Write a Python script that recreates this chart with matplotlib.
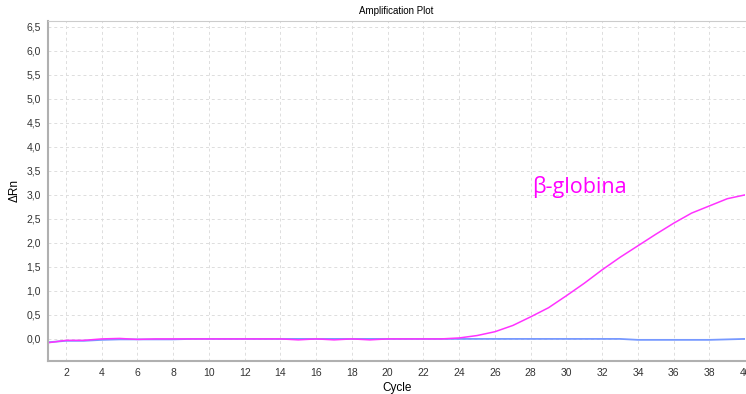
import matplotlib
matplotlib.use("Agg")
import matplotlib.pyplot as plt
from matplotlib.ticker import FuncFormatter

plt.rcParams["font.family"] = ["Liberation Sans", "DejaVu Sans"]

# dados (ciclos 1..40)
ciclos = list(range(1, 41))
globina = [-0.08, -0.03, -0.03, 0.0, 0.01, -0.01, 0.0, 0.0, 0.0, 0.0,
           0.0, 0.0, 0.0, 0.0, -0.02, 0.0, -0.02, 0.0, -0.02, 0.0,
           0.0, 0.0, 0.0, 0.02, 0.07, 0.15, 0.28, 0.46, 0.65, 0.9,
           1.16, 1.44, 1.70, 1.94, 2.18, 2.41, 2.62, 2.77, 2.92, 3.0]
controle = [-0.07, -0.04, -0.04, -0.02, -0.01, -0.01, -0.01, -0.01, 0.0, 0.0,
            0.0, 0.0, 0.0, 0.0, 0.0, 0.0, 0.0, 0.0, 0.0, 0.0,
            0.0, 0.0, 0.0, 0.0, 0.0, 0.0, 0.0, 0.0, 0.0, 0.0,
            0.0, 0.0, 0.0, -0.02, -0.02, -0.02, -0.02, -0.02, -0.01, 0.0]
xticks = list(range(2, 41, 2))
yticks = [i * 0.5 for i in range(0, 14)]

fig = plt.figure(figsize=(7.46, 3.94), dpi=100)
ax = fig.add_axes([48 / 746, 1 - 361 / 394, 1 - 48 / 746 - 0.001, 340 / 394])

ax.plot(ciclos, controle, color="#7799ff", lw=1.3)
ax.plot(ciclos, globina, color="#ff33ff", lw=1.1)

ax.set_xlim(1, 40)
ax.set_ylim(-0.46, 6.62)
ax.set_xticks(xticks)
ax.set_yticks(yticks)
ax.yaxis.set_major_formatter(FuncFormatter(lambda v, p: ("%.1f" % v).replace(".", ",")))
ax.tick_params(length=0, labelsize=7.5, colors="#333333", pad=5)
ax.grid(True, color="#dddddd", ls=(0, (3, 3)), lw=0.7)

for lado in ["left", "bottom"]:
    ax.spines[lado].set_color("#b0b0b0")
    ax.spines[lado].set_linewidth(1.5)
ax.spines["top"].set_color("#cccccc")
ax.spines["right"].set_visible(False)

ax.set_title("Amplification Plot", fontsize=7, pad=5)
ax.set_xlabel("Cycle", fontsize=8.5, labelpad=3)
ax.set_ylabel("\u0394Rn", fontsize=8.5, labelpad=4)

ax.text(30.7, 3.17, "\u03b2-globina", color="#ff00ff", fontsize=15.5,
        family="Open Sans", ha="center", va="center")

fig.savefig("out.png", dpi=100)
